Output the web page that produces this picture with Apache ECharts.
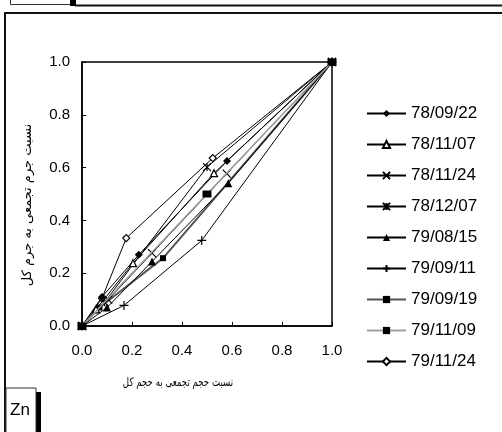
<!DOCTYPE html>
<html>
<head>
<meta charset="utf-8">
<script src="https://cdn.jsdelivr.net/npm/echarts@6/dist/echarts.min.js"></script>
<style>
  html, body { margin: 0; padding: 0; background: #fff; }
  #chart { width: 502px; height: 432px; }
</style>
</head>
<body>
<div id="chart"></div>
<script>
// names of the sampling dates (legend)
const seriesNames = ['78/09/22', '78/11/07', '78/11/24', '78/12/07', '79/08/15', '79/09/11', '79/09/19', '79/11/09', '79/11/24'];

// [cumulative volume ratio, cumulative mass ratio] per series
const s780922 = [[0, 0], [0.08, 0.11], [0.227, 0.27], [0.58, 0.625], [1, 1]];
const s781107 = [[0, 0], [0.056, 0.063], [0.204, 0.238], [0.528, 0.579], [1, 1]];
const s781124 = [[0, 0], [0.105, 0.10], [0.28, 0.276], [0.579, 0.577], [1, 1]];
const s781207 = [[0, 0], [0.09, 0.09], [0.5, 0.602], [1, 1]];
const s790815 = [[0, 0], [0.1, 0.07], [0.28, 0.244], [0.585, 0.541], [1, 1]];
const s790911 = [[0, 0], [0.168, 0.078], [0.479, 0.324], [1, 1]];
const s790919 = [[0, 0], [0.07, 0.07], [0.324, 0.257], [1, 1]];
const s791109 = [[0, 0], [0.5, 0.5], [1, 1]];
const s791124 = [[0, 0], [0.08, 0.105], [0.177, 0.333], [0.523, 0.636], [1, 1]];

const xName = 'نسبت حجم تجمعی به حجم کل';
const yName = 'نسبت جرم تجمعی به جرم کل';

const X_PATH = 'path://M0,0L10,10M10,0L0,10';
const STAR_PATH = 'path://M0,0L10,10M10,0L0,10M5,0L5,10';
const PLUS_PATH = 'path://M5,0L5,10M0,5L10,5';

function mk(name, data, symbol, opts) {
  opts = opts || {};
  return {
    name: name,
    type: 'line',
    data: data,
    symbol: symbol,
    symbolSize: opts.size || 7,
    showAllSymbol: true,
    z: opts.z || 2,
    lineStyle: { color: opts.line || '#000', width: opts.lw || 1 },
    itemStyle: {
      color: opts.fill || '#000',
      borderColor: opts.border || '#000',
      borderWidth: opts.bw == null ? 0 : opts.bw
    },
    emphasis: { disabled: true },
    animation: false
  };
}

const chart = echarts.init(document.getElementById('chart'));
const option = {
  backgroundColor: '#fff',
  animation: false,
  grid: {
    left: 82, right: 170, top: 62, bottom: 106,
    show: true, borderColor: '#000', borderWidth: 1.5
  },
  xAxis: {
    type: 'value', min: 0, max: 1, interval: 0.2,
    axisLine: { show: true, lineStyle: { color: '#000', width: 1.5 } },
    axisTick: { show: true, inside: true, length: 4, lineStyle: { color: '#000' } },
    splitLine: { show: false },
    axisLabel: { color: '#000', fontSize: 15, fontFamily: 'Liberation Sans', margin: 17,
      formatter: v => v.toFixed(1) }
  },
  yAxis: {
    type: 'value', min: 0, max: 1, interval: 0.2,
    axisLine: { show: true, lineStyle: { color: '#000', width: 1.5 } },
    axisTick: { show: true, inside: true, length: 4, lineStyle: { color: '#000' } },
    splitLine: { show: false },
    axisLabel: { color: '#000', fontSize: 15, fontFamily: 'Liberation Sans', margin: 12,
      formatter: v => v.toFixed(1) }
  },
  legend: {
    orient: 'vertical',
    left: 361, top: 100,
    itemWidth: 39, itemHeight: 9, itemGap: 14,
    textStyle: { color: '#000', fontSize: 17, fontFamily: 'Liberation Sans' },
    data: seriesNames
  },
  graphic: [
    // page frame
    { type: 'rect', shape: { x: 5, y: 13, width: 502, height: 430 }, style: { fill: 'none', stroke: '#111', lineWidth: 2 }, silent: true },
    { type: 'line', shape: { x1: 75, y1: 5.5, x2: 502, y2: 5.5 }, style: { stroke: '#111', lineWidth: 2 }, silent: true },
    { type: 'rect', shape: { x: 70, y: 0, width: 6, height: 6 }, style: { fill: '#000' }, silent: true },
    { type: 'polyline', shape: { points: [[10.5, 0], [10.5, 4.5], [70, 4.5]] }, style: { stroke: '#333', lineWidth: 1, fill: 'none' }, silent: true },
    // Zn box
    { type: 'rect', shape: { x: 36, y: 392, width: 5, height: 45 }, style: { fill: '#000' }, silent: true },
    { type: 'rect', shape: { x: 6, y: 388, width: 30, height: 50 }, style: { fill: '#fff', stroke: '#333', lineWidth: 1 }, silent: true },
    { type: 'text', left: 10, top: 402, style: { text: 'Zn', fontSize: 17, fontFamily: 'Liberation Sans', fill: '#000' }, silent: true },
    // axis titles
    { type: 'text', x: 178, y: 383, scaleX: 0.72, style: { text: xName, fontSize: 12, fontFamily: 'DejaVu Sans', fill: '#000', align: 'center', verticalAlign: 'middle' }, silent: true },
    { type: 'text', x: 28, y: 205, rotation: Math.PI / 2, style: { text: yName, fontSize: 13, fontFamily: 'DejaVu Sans', fill: '#000', align: 'center', verticalAlign: 'middle' }, silent: true }
  ],
  series: [
    mk(seriesNames[8], s791124, 'diamond', { fill: '#fff', bw: 1.2, size: 7 }),
    mk(seriesNames[7], s791109, 'rect', { line: '#a0a0a0', lw: 1.5, size: [9, 7], z: 4 }),
    mk(seriesNames[6], s790919, 'rect', { line: '#555', lw: 2, size: 6 }),
    mk(seriesNames[5], s790911, PLUS_PATH, { fill: 'none', bw: 1.2, size: 9 }),
    mk(seriesNames[4], s790815, 'triangle', { size: 8 }),
    mk(seriesNames[3], s781207, STAR_PATH, { fill: 'none', bw: 1.2, size: 8 }),
    mk(seriesNames[2], s781124, X_PATH, { fill: 'none', bw: 1.2, size: 8 }),
    mk(seriesNames[1], s781107, 'triangle', { fill: '#fff', bw: 1.2, size: 7 }),
    mk(seriesNames[0], s780922, 'diamond', { size: 8 })
  ]
};
chart.setOption(option);
</script>
</body>
</html>
